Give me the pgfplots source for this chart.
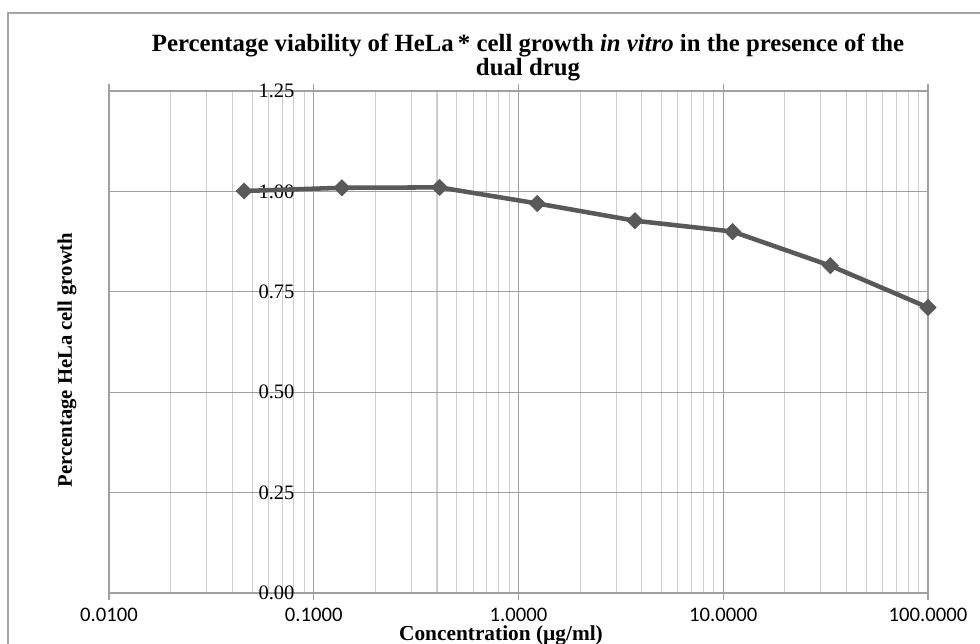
\documentclass[border=0pt]{standalone}
\usepackage{pgfplots}
\pgfplotsset{compat=1.18}
\usepackage{fontspec}
\setmainfont{Liberation Serif}
\newfontfamily\carlito{Carlito}
\newfontfamily\tnr{Liberation Serif}
\definecolor{serie}{HTML}{595959}
\definecolor{majgrid}{HTML}{A0A0A0}
\definecolor{mingrid}{HTML}{CDCDCD}
\definecolor{framec}{HTML}{A6A6A6}
\begin{document}
\begin{tikzpicture}[x=0.75pt,y=0.75pt]
\useasboundingbox (0,0) rectangle (980,643);
\clip (0,0) rectangle (980,643);
\draw[framec, line width=1.1pt] (8,-20) -- (8,630) -- (1000,630);
\begin{axis}[
  at={(81.75pt,37.5pt)}, anchor=south west,
  scale only axis, width=614.25pt, height=376.5pt,
  xmode=log, xmin=0.01, xmax=100, ymin=0, ymax=1.25,
  xtick={0.01,0.1,1,10,100},
  xticklabels={0.0100,0.1000,1.0000,10.0000,100.0000},
  ytick={0,0.25,0.5,0.75,1,1.25},
  yticklabels={0.00,0.25,0.50,0.75,1.00,1.25},
  grid=both,
  major grid style={draw=majgrid, line width=0.8pt},
  minor grid style={draw=mingrid, line width=0.8pt},
  axis line style={draw=majgrid, line width=0.9pt},
  tick align=outside,
  major tick length=5.25pt, minor tick length=0pt,
  xtick style={draw=majgrid, line width=0.8pt},
  ytick style={draw=none},
  every x tick label/.append style={font=\carlito\fontsize{15.5}{18}\selectfont, text=black, inner sep=0pt, anchor=north, yshift=-6pt},
  every y tick label/.append style={font=\tnr\fontsize{15.4}{18}\selectfont, text=black, inner sep=0pt, anchor=east, xshift=144.5pt},
  clip=false,
]
\addplot[serie, line width=3.4pt, mark=square*, mark size=4.3pt,
  mark options={rotate=45, solid, line width=0.5pt, fill=serie}]
  coordinates {
  (0.0457,1.001) (0.1372,1.009) (0.4115,1.010) (1.2346,0.970)
  (3.7037,0.927) (11.1111,0.900) (33.3333,0.815) (100,0.711)
  };
\end{axis}
\node[anchor=base, font=\bfseries\fontsize{18.6}{22}\selectfont] at (528,591)
  {Percentage viability of HeLa\,* cell growth \textit{in vitro} in the presence of the};
\node[anchor=base, font=\bfseries\fontsize{18.6}{22}\selectfont] at (528,567) {dual drug};
\node[rotate=90, font=\bfseries\fontsize{15.5}{18}\selectfont] at (67,283) {Percentage HeLa cell growth};
\node[anchor=base, font=\bfseries\fontsize{16}{18}\selectfont] at (501,3) {Concentration (µg/ml)};
\end{tikzpicture}
\end{document}
